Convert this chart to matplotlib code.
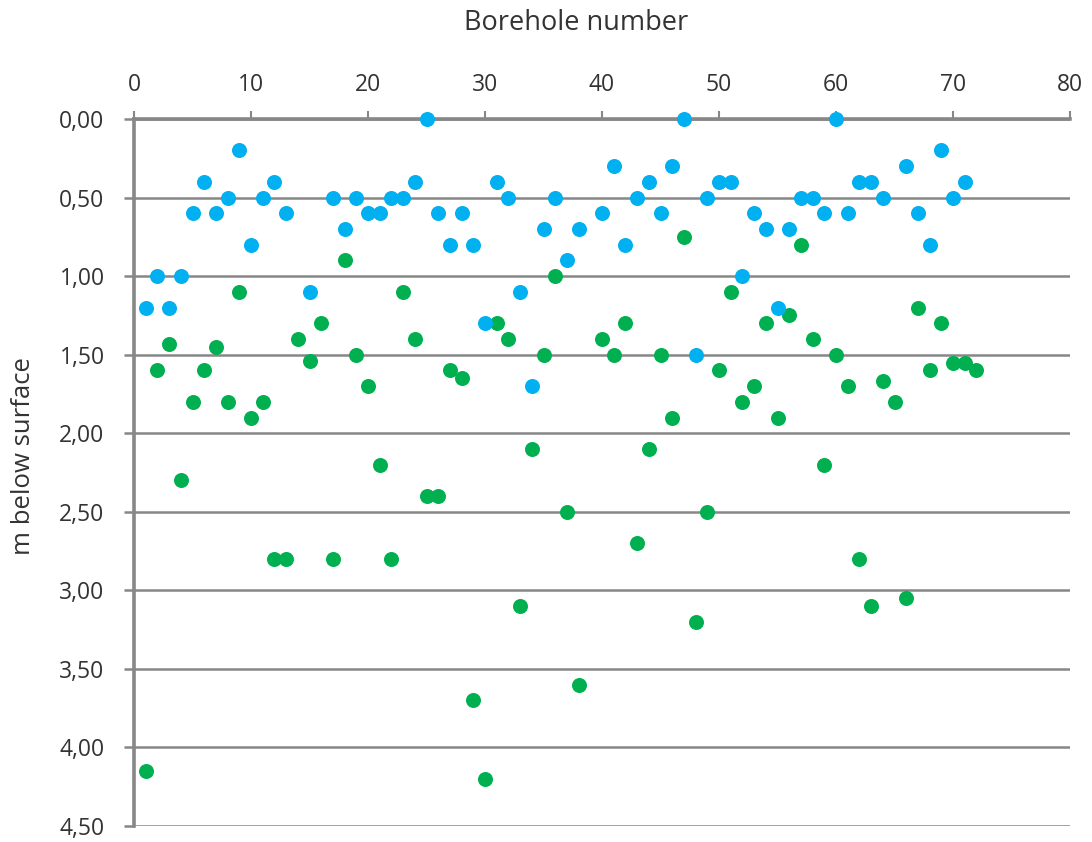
import numpy as np
import matplotlib
matplotlib.use("Agg")
import matplotlib.pyplot as plt
from matplotlib.ticker import FuncFormatter

plt.rcParams['font.family'] = ['Open Sans', 'DejaVu Sans']

# Borehole numbers and depths (m below surface); NaN where no value was recorded
borehole = list(range(1, 73))
depth_upper = [1.20, 1.00, 1.20, 1.00, 0.60, 0.40, 0.60, 0.50, 0.20, 0.80,
               0.50, 0.40, 0.60, np.nan, 1.10, np.nan, 0.50, 0.70, 0.50, 0.60,
               0.60, 0.50, 0.50, 0.40, 0.00, 0.60, 0.80, 0.60, 0.80, 1.30,
               0.40, 0.50, 1.10, 1.70, 0.70, 0.50, 0.90, 0.70, np.nan, 0.60,
               0.30, 0.80, 0.50, 0.40, 0.60, 0.30, 0.00, 1.50, 0.50, 0.40,
               0.40, 1.00, 0.60, 0.70, 1.20, 0.70, 0.50, 0.50, 0.60, 0.00,
               0.60, 0.40, 0.40, 0.50, np.nan, 0.30, 0.60, 0.80, 0.20, 0.50,
               0.40, np.nan]
depth_lower = [4.15, 1.60, 1.43, 2.30, 1.80, 1.60, 1.45, 1.80, 1.10, 1.90,
               1.80, 2.80, 2.80, 1.40, 1.54, 1.30, 2.80, 0.90, 1.50, 1.70,
               2.20, 2.80, 1.10, 1.40, 2.40, 2.40, 1.60, 1.65, 3.70, 4.20,
               1.30, 1.40, 3.10, 2.10, 1.50, 1.00, 2.50, 3.60, np.nan, 1.40,
               1.50, 1.30, 2.70, 2.10, 1.50, 1.90, 0.75, 3.20, 2.50, 1.60,
               1.10, 1.80, 1.70, 1.30, 1.90, 1.25, 0.80, 1.40, 2.20, 1.50,
               1.70, 2.80, 3.10, 1.67, 1.80, 3.05, 1.20, 1.60, 1.30, 1.55,
               1.55, 1.60]

x_ticks = list(range(0, 81, 10))
y_ticks = [0.0, 0.5, 1.0, 1.5, 2.0, 2.5, 3.0, 3.5, 4.0, 4.5]

axis_grey = "#878787"
text_col = "#333333"

W, H = 1092, 842
fig = plt.figure(figsize=(W / 100, H / 100), dpi=100)
ax = fig.add_axes([134 / W, 16 / H, 936 / W, 707 / H])

ax.plot(borehole, depth_lower, linestyle="none", marker="o", markersize=10.8,
        color="#00B050", markeredgewidth=0, zorder=3, clip_on=False)
ax.plot(borehole, depth_upper, linestyle="none", marker="o", markersize=10.8,
        color="#00B0F0", markeredgewidth=0, zorder=3, clip_on=False)

ax.set_xlim(0, 80)
ax.set_ylim(4.5, 0.0)
ax.set_xticks(x_ticks)
ax.set_yticks(y_ticks)
ax.yaxis.set_major_formatter(FuncFormatter(lambda v, p: f"{v:.2f}".replace(".", ",")))

ax.xaxis.set_ticks_position("top")
ax.grid(axis="y", color=axis_grey, linewidth=1.8, zorder=0)
ax.set_axisbelow(True)

for side in ("right", "bottom"):
    ax.spines[side].set_visible(False)
for side in ("left", "top"):
    ax.spines[side].set_color(axis_grey)
    ax.spines[side].set_linewidth(2.6)

ax.tick_params(axis="x", direction="out", length=6, width=1.5, color=axis_grey,
               labelsize=16.5, labelcolor=text_col, pad=10)
ax.tick_params(axis="y", direction="out", length=7.2, width=1.8, color=axis_grey,
               labelsize=16.5, labelcolor=text_col, pad=14)

# Axis titles
fig.text(576 / W, 1 - 23 / H, "Borehole number", fontsize=19.5, color=text_col,
         ha="center", va="center")
fig.text(24 / W, 1 - 456 / H, "m below surface", fontsize=18.5, color=text_col,
         ha="center", va="center", rotation=90)

fig.savefig("out.png", dpi=100)
